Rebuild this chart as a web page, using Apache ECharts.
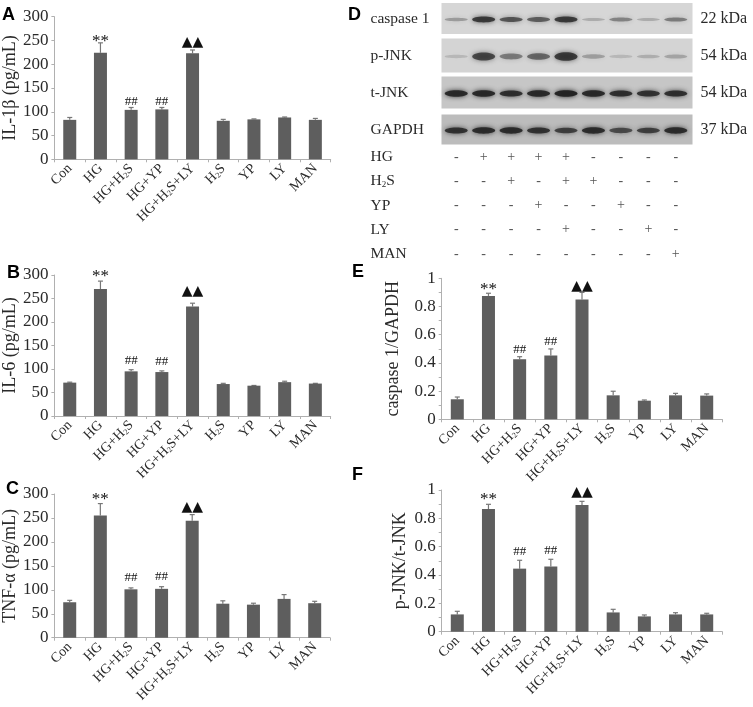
<!DOCTYPE html>
<html>
<head>
<meta charset="utf-8">
<style>html,body{margin:0;padding:0;background:#fff}#c{width:753px;height:707px}</style>
<script src="https://cdn.jsdelivr.net/npm/echarts@6/dist/echarts.min.js"></script>
</head>
<body>
<div id="c"></div>
<script>
var categories = ['Con','HG','HG+H2S','HG+YP','HG+H2S+LY','H2S','YP','LY','MAN'];

var il1bValues = [83,224,104,105,223,81,84,88,83];
var il1bUpper  = [88,245,109,109,230,84,85,89,86];
var il6Values  = [71,270,95,93.5,233,68,64.5,72,69];
var il6Upper   = [72,287,98.5,96,240,69.5,65,74,69.5];
var tnfValues  = [74,255,101,102,244,71,69,81,72];
var tnfUpper   = [78,280,104,106.5,257,77,72,90,76];
var caspValues = [0.142,0.875,0.426,0.452,0.849,0.17,0.132,0.17,0.168];
var caspUpper  = [0.158,0.894,0.444,0.499,0.90,0.199,0.137,0.184,0.18];
var jnkValues  = [0.122,0.866,0.445,0.461,0.894,0.136,0.108,0.122,0.122];
var jnkUpper   = [0.144,0.899,0.504,0.511,0.92,0.158,0.118,0.134,0.13];
var sigMarks   = ['','**','##','##','\u25B2\u25B2','','','',''];

var blotRows  = ['caspase 1','p-JNK','t-JNK','GAPDH'];
var blotSizes = ['22 kDa','54 kDa','54 kDa','37 kDa'];
var caspBand  = [0.3,0.8,0.65,0.6,0.8,0.22,0.42,0.22,0.45];
var pjnkBand  = [0.15,0.72,0.45,0.55,0.8,0.28,0.15,0.2,0.25];
var tjnkBand  = [0.92,0.92,0.88,0.92,0.98,0.92,0.88,0.85,0.88];
var gapdhBand = [0.85,0.9,0.9,0.85,0.75,0.9,0.68,0.75,0.9];

var treatRows = ['HG','H2S','YP','LY','MAN'];
var treatHG   = ['-','+','+','+','+','-','-','-','-'];
var treatH2S  = ['-','-','+','-','+','+','-','-','-'];
var treatYP   = ['-','-','-','+','-','-','+','-','-'];
var treatLY   = ['-','-','-','-','+','-','-','+','-'];
var treatMAN  = ['-','-','-','-','-','-','-','-','+'];

var SERIF = '"Liberation Serif", serif';
var TXT = '#2a2a2a';
var AXC = '#b0b0b0';

function subLabel(v){
  if (v.indexOf('H2S') < 0) return '{n|' + v + '}';
  var p = v.split('H2S');
  return '{n|' + p[0] + 'H}{s|2}{n|S' + p[1] + '}';
}
var rich = {
  n:{fontFamily:SERIF,fontSize:14,color:TXT},
  s:{fontFamily:SERIF,fontSize:8,color:TXT,verticalAlign:'bottom',padding:[6,0,0,0]}
};
var richBig = {
  n:{fontFamily:SERIF,fontSize:15.5,color:TXT},
  s:{fontFamily:SERIF,fontSize:9,color:TXT,verticalAlign:'bottom',padding:[7,0,0,0]}
};

var panels = [
  {l:50.7,r:330.7,t:16.7,b:159.3,name:'IL-1\u03B2 (pg/mL)',gap:31,max:300,step:50,v:il1bValues,u:il1bUpper,star:4,hash:6,tri:8},
  {l:50.7,r:330.7,t:275,b:416,name:'IL-6 (pg/mL)',gap:29,max:300,step:50,v:il6Values,u:il6Upper,star:8,hash:9,tri:12},
  {l:48.3,r:330,t:494,b:637.7,name:'TNF-\u03B1 (pg/mL)',gap:26,max:300,step:50,v:tnfValues,u:tnfUpper,star:7,hash:10,tri:7},
  {l:441.7,r:722.3,t:278.3,b:419.3,name:'caspase 1/GAPDH',gap:39,max:1,step:0.2,minor:true,v:caspValues,u:caspUpper,star:7,hash:7,tri:6},
  {l:441.7,r:722.3,t:490,b:631.7,name:'p-JNK/t-JNK',gap:32,max:1,step:0.2,minor:true,v:jnkValues,u:jnkUpper,star:8,hash:9,tri:9}
];

var grids=[],xAxes=[],yAxes=[],series=[];

panels.forEach(function(p,i){
  grids.push({left:p.l,top:p.t,width:p.r-p.l,height:p.b-p.t,containLabel:false});
  xAxes.push({type:'category',gridIndex:i,data:categories,
    axisLine:{lineStyle:{color:AXC,width:1}},
    axisTick:{show:true,length:3,alignWithLabel:false,lineStyle:{color:AXC}},
    axisLabel:{interval:0,rotate:45,margin:7,formatter:subLabel,rich:rich}
  });
  yAxes.push({type:'value',gridIndex:i,min:0,max:p.max,interval:p.step,
    name:p.name,nameLocation:'middle',nameGap:p.gap,nameRotate:90,
    nameTextStyle:{fontFamily:SERIF,fontSize:18,color:TXT},
    axisLine:{show:true,lineStyle:{color:AXC,width:1}},
    axisTick:{show:true,length:3,lineStyle:{color:AXC}},
    minorTick:p.minor?{show:true,splitNumber:2,length:3,lineStyle:{color:AXC}}:{show:false},
    splitLine:{show:false},
    axisLabel:{margin:6,fontFamily:SERIF,fontSize:17,color:TXT}
  });
  series.push({type:'bar',xAxisIndex:i,yAxisIndex:i,data:p.v,barWidth:13,
    itemStyle:{color:'#5e5e5e'},silent:true,z:3});
  var errData = p.v.map(function(v,k){return [k,v,p.u[k]];});
  series.push({type:'custom',xAxisIndex:i,yAxisIndex:i,data:errData,encode:{x:0,y:[1,2]},silent:true,z:2,
    renderItem:function(params,api){
      var a=api.coord([api.value(0),api.value(1)]);
      var b=api.coord([api.value(0),api.value(2)]);
      var st={stroke:'#777',lineWidth:1.2,fill:null};
      return {type:'group',children:[
        {type:'line',shape:{x1:a[0],y1:a[1],x2:b[0],y2:b[1]},style:st},
        {type:'line',shape:{x1:b[0]-2.5,y1:b[1],x2:b[0]+2.5,y2:b[1]},style:st}
      ]};
    }});
  series.push({type:'custom',xAxisIndex:i,yAxisIndex:i,data:errData,encode:{x:0,y:2},silent:true,z:4,
    renderItem:function(params,api){
      var m=sigMarks[params.dataIndex];
      if(!m) return null;
      var b=api.coord([api.value(0),api.value(2)]);
      var tri=m.charAt(0)==='\u25B2', star=m.charAt(0)==='*';
      // vertical centre of the glyphs sits the panel's gap above the whisker
      var gap=tri?p.tri:star?p.star:p.hash;
      var y=b[1]-gap+(star?3:0);
      return {type:'text',style:{
        text:m,x:b[0],y:y,
        align:'center',verticalAlign:'middle',
        fill:'#111',
        font:tri?'14px "DejaVu Sans"':star?'17px '+SERIF:'13px '+SERIF
      }};
    }});
});

/* western blot panels */
var gi=panels.length;
grids.push({left:442.5,top:0,width:247,height:148});
xAxes.push({type:'category',gridIndex:gi,data:categories,show:false});
yAxes.push({type:'category',gridIndex:gi,data:blotRows,inverse:true,
  axisLine:{show:false},axisTick:{show:false},
  axisLabel:{margin:72,align:'left',fontFamily:SERIF,fontSize:15.5,color:TXT}});
yAxes.push({type:'category',gridIndex:gi,data:blotSizes,inverse:true,position:'right',
  axisLine:{show:false},axisTick:{show:false},
  axisLabel:{margin:11,align:'left',fontFamily:SERIF,fontSize:16,color:TXT}});

var panelTone=['#d6d6d6','#d4d4d4','#c6c6c6','#bcbcbc'];
var panelH=[31,34,32,30];
series.push({type:'custom',xAxisIndex:gi,yAxisIndex:gi,silent:true,z:1,
  data:blotRows.map(function(r,k){return [0,k];}),encode:{x:0,y:1},clip:false,
  renderItem:function(params,api){
    var c=api.coord([0,api.value(1)]);
    var cs=params.coordSys;
    var h=panelH[params.dataIndex];
    return {type:'rect',shape:{x:cs.x-1,y:c[1]-h/2,width:cs.width+4,height:h},
      style:{fill:panelTone[params.dataIndex]}};
  }});
[caspBand,pjnkBand,tjnkBand,gapdhBand].forEach(function(arr,row){
  var thick = row===1 ? 4.2 : 2.4;
  series.push({type:'custom',xAxisIndex:gi,yAxisIndex:gi,silent:true,z:2,clip:false,
    data:arr.map(function(v,k){return [k,row,v];}),encode:{x:0,y:1},
    renderItem:function(params,api){
      var c=api.coord([api.value(0),api.value(1)]);
      var v=api.value(2);
      var col='rgba(35,35,35,'+v+')';
      return {type:'ellipse',shape:{cx:c[0],cy:c[1]+1,rx:11.5,ry:1+thick*v},
        style:{fill:col,shadowBlur:5,shadowColor:col}};
    }});
});

/* treatment table */
var ti=gi+1;
grids.push({left:442.5,top:145,width:247,height:121});
xAxes.push({type:'category',gridIndex:ti,data:categories,show:false});
yAxes.push({type:'category',gridIndex:ti,data:treatRows,inverse:true,
  axisLine:{show:false},axisTick:{show:false},
  axisLabel:{interval:0,margin:72,align:'left',formatter:subLabel,rich:richBig}});
var yTreatIdx=yAxes.length-1;
[treatHG,treatH2S,treatYP,treatLY,treatMAN].forEach(function(arr,row){
  series.push({type:'custom',xAxisIndex:ti,yAxisIndex:yTreatIdx,silent:true,z:2,
    data:arr.map(function(v,k){return [k,row];}),encode:{x:0,y:1},
    renderItem:function(params,api){
      var c=api.coord([api.value(0),api.value(1)]);
      return {type:'text',style:{text:arr[params.dataIndex],x:c[0],y:c[1],
        align:'center',verticalAlign:'middle',fill:'#555',font:'14px '+SERIF}};
    }});
});

var letters=[['A',2,6],['B',7,264],['C',6,480],['D',348,6],['E',352,263],['F',352,466]];

var chart=echarts.init(document.getElementById('c'),null,{renderer:'canvas',width:753,height:707});
chart.setOption({
  animation:false,
  backgroundColor:'#fff',
  grid:grids,xAxis:xAxes,yAxis:yAxes,series:series,
  graphic:letters.map(function(a){
    return {type:'text',left:a[1],top:a[2],z:10,style:{text:a[0],fill:'#000',font:'bold 18px "Liberation Sans"'}};
  })
});
</script>
</body>
</html>
